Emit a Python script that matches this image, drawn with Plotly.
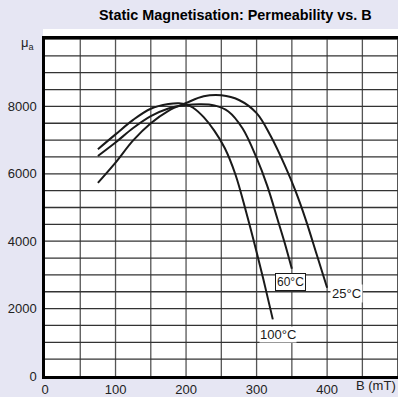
import plotly.graph_objects as go

# Data
b_100 = [75, 100, 125, 150, 175, 190, 200, 210, 225, 240, 255, 270, 285, 300, 312, 323]
mu_100 = [6730, 7170, 7600, 7930, 8070, 8095, 8060, 7960, 7680, 7280, 6760, 5980, 4880, 3680, 2660, 1680]

b_60 = [75, 100, 125, 150, 175, 200, 220, 240, 260, 280, 300, 315, 330, 340, 350]
mu_60 = [6530, 6930, 7357, 7710, 7940, 8040, 8065, 8030, 7850, 7350, 6470, 5650, 4630, 3940, 3180]

b_25 = [75, 100, 125, 150, 175, 200, 225, 250, 275, 300, 320, 340, 355, 370, 385, 400]
mu_25 = [5730, 6330, 6990, 7500, 7870, 8100, 8300, 8330, 8190, 7800, 7120, 6250, 5500, 4620, 3620, 2620]

x_ticks = [0, 100, 200, 300, 400]
y_ticks = [0, 2000, 4000, 6000, 8000]

title_text = "Static Magnetisation: Permeability vs. B"
labels = ["25°C", "60°C", "100°C"]
label_pos = [(428, 2460), (347.5, 2800), (330.6, 1220)]

FONT = "Liberation Sans, Arial, sans-serif"

fig = go.Figure()
for bx, my in [(b_100, mu_100), (b_60, mu_60), (b_25, mu_25)]:
    fig.add_trace(go.Scatter(x=bx, y=my, mode="lines",
                             line=dict(color="#1a1a1a", width=2, shape="spline", smoothing=1.0),
                             showlegend=False, hoverinfo="skip"))

annotations = []
# curve labels
annotations.append(dict(x=label_pos[0][0], y=label_pos[0][1], xref="x", yref="y", text=labels[0],
                        showarrow=False, font=dict(size=13, color="#1a1a1a", family=FONT),
                        bgcolor="white", borderpad=1))
annotations.append(dict(x=label_pos[1][0], y=label_pos[1][1], xref="x", yref="y", text=labels[1],
                        showarrow=False, font=dict(size=12, color="#1a1a1a", family=FONT),
                        bgcolor="white", bordercolor="#1a1a1a", borderwidth=1, borderpad=1))
annotations.append(dict(x=label_pos[2][0], y=label_pos[2][1], xref="x", yref="y", text=labels[2],
                        showarrow=False, font=dict(size=13, color="#1a1a1a", family=FONT),
                        bgcolor="white", borderpad=0))
# title
annotations.append(dict(x=(97 - 45) / 353, y=(378 - 15) / 339, xref="paper", yref="paper",
                        text="<b>" + title_text + "</b>", showarrow=False, xanchor="left",
                        yanchor="middle", font=dict(size=14.4, color="black", family=FONT)))
# axis titles
annotations.append(dict(x=1, y=-10 / 339, xref="paper", yref="paper", text="B (mT)",
                        showarrow=False, xanchor="right", yanchor="middle",
                        font=dict(size=13, color="#222", family=FONT)))
annotations.append(dict(x=-8 / 353, y=(378 - 44) / 339, xref="paper", yref="paper",
                        text="μ<sub>a</sub>", showarrow=False, xanchor="right", yanchor="middle",
                        font=dict(size=13, color="#222", family=FONT)))

shapes = [dict(type="rect", xref="paper", yref="paper", x0=-2 / 353, x1=1.0,
               y0=0, y1=(378 - 29) / 339, fillcolor="white", line=dict(width=0), layer="below")]
grid_x = list(range(50, 501, 50))
grid_y = list(range(500, 10001, 500))
for gx in grid_x:
    shapes.append(dict(type="line", xref="x", yref="paper", x0=gx, x1=gx, y0=0, y1=1,
                       line=dict(color="#555", width=1.3), layer="below"))
for gy in grid_y:
    shapes.append(dict(type="line", xref="paper", yref="y", x0=0, x1=1, y0=gy, y1=gy,
                       line=dict(color="#333", width=1.3), layer="below"))

fig.update_layout(
    width=398, height=397,
    margin=dict(l=45, r=0, t=39, b=19),
    paper_bgcolor="#e6e6f3",
    plot_bgcolor="white",
    font=dict(family=FONT, size=13, color="#222"),
    annotations=annotations,
    shapes=shapes,
    xaxis=dict(range=[0, 500.5], tickvals=x_ticks, ticktext=[str(v) for v in x_ticks],
               showgrid=False,
               showline=True, linecolor="black", linewidth=2.5, mirror=True,
               zeroline=False, ticks="", fixedrange=True),
    yaxis=dict(range=[0, 10000], tickvals=y_ticks, ticktext=[str(v) for v in y_ticks],
               showgrid=False,
               showline=True, linecolor="black", linewidth=2.5, mirror=False,
               zeroline=False, ticks="", ticklabelstandoff=3, fixedrange=True),
)

fig.write_html("out.html")
